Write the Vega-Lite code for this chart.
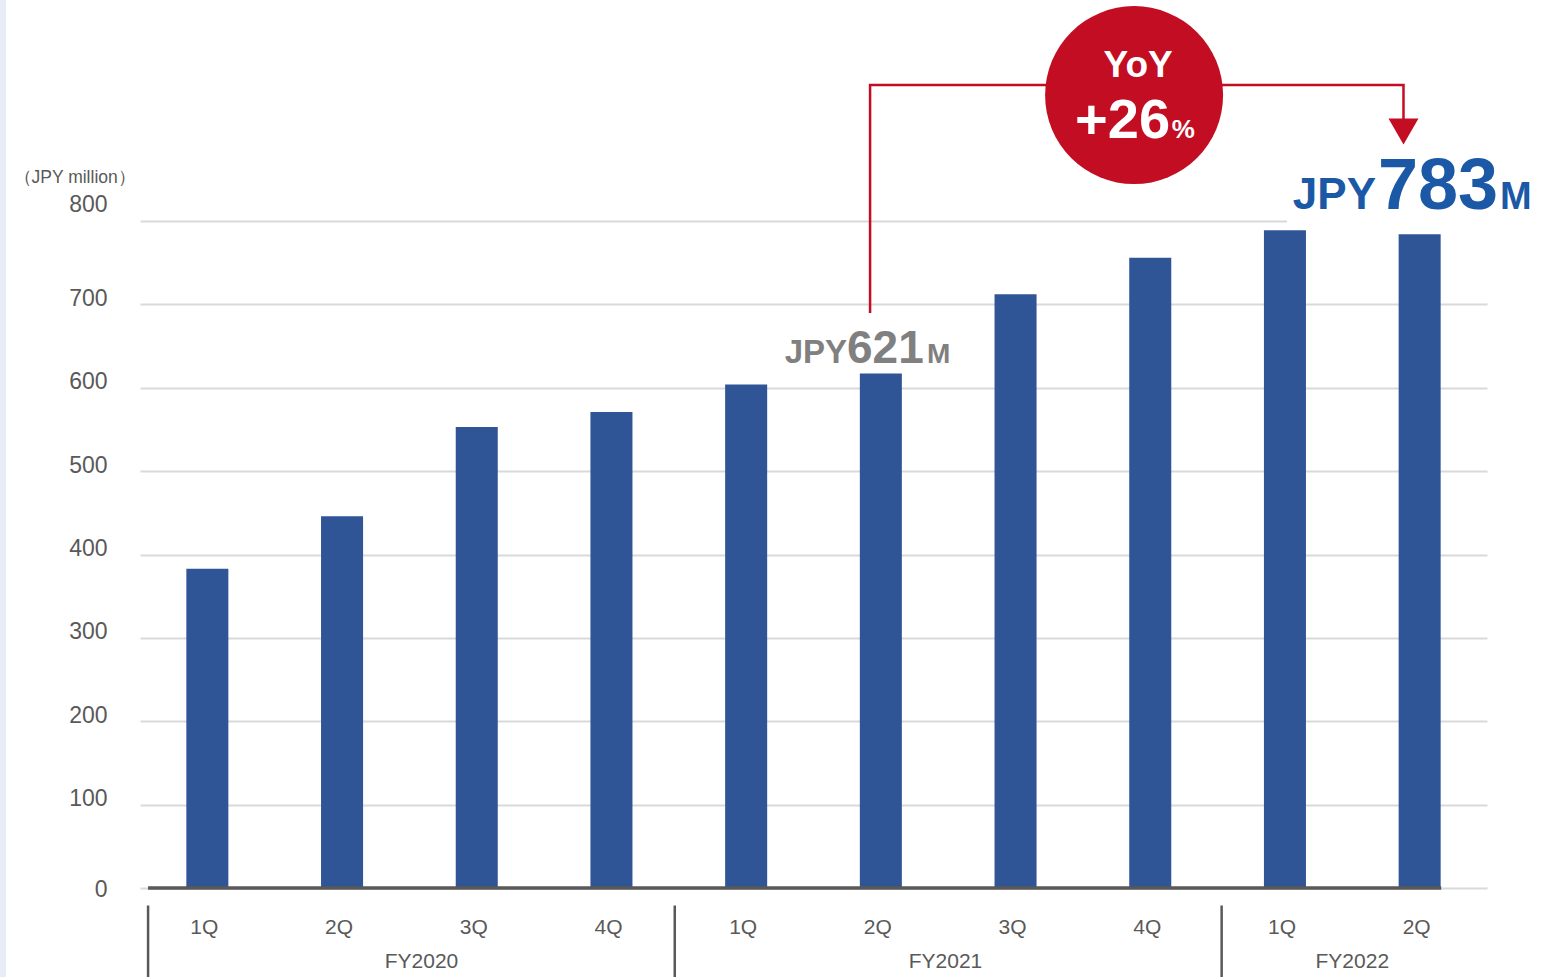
{
  "$schema": "https://vega.github.io/schema/vega-lite/v6.json",
  "description": "Quarterly sales, FY2020 1Q to FY2022 2Q, JPY million",
  "background": "white",
  "autosize": "none",
  "width": 1347,
  "height": 667,
  "padding": {"left": 140, "top": 221, "right": 69, "bottom": 89},
  "config": {
    "font": "Liberation Sans",
    "view": {"stroke": null}
  },
  "layer": [
    {
      "data": {
        "values": [
          {"period": "FY2020 1Q", "value": 383},
          {"period": "FY2020 2Q", "value": 446},
          {"period": "FY2020 3Q", "value": 553},
          {"period": "FY2020 4Q", "value": 571},
          {"period": "FY2021 1Q", "value": 604},
          {"period": "FY2021 2Q", "value": 617},
          {"period": "FY2021 3Q", "value": 712},
          {"period": "FY2021 4Q", "value": 756},
          {"period": "FY2022 1Q", "value": 789},
          {"period": "FY2022 2Q", "value": 784}
        ]
      },
      "mark": {"type": "bar", "color": "#2F5597"},
      "encoding": {
        "x": {
          "field": "period",
          "type": "nominal",
          "sort": null,
          "scale": {"paddingInner": 0.688, "paddingOuter": 0.344},
          "axis": {
            "title": null,
            "labelExpr": "split(datum.value, ' ')[1]",
            "labelAngle": 0,
            "labelFontSize": 21,
            "labelColor": "#595959",
            "labelPadding": 28,
            "labelOffset": -3,
            "domain": false,
            "ticks": false,
            "grid": false
          }
        },
        "y": {
          "field": "value",
          "type": "quantitative",
          "scale": {"domain": [0, 800], "nice": false},
          "axis": {
            "values": [0, 100, 200, 300, 400, 500, 600, 700, 800],
            "grid": true,
            "gridColor": "#d9d9d9",
            "gridWidth": 2,
            "domain": false,
            "ticks": false,
            "labelFontSize": 23,
            "labelColor": "#595959",
            "labelPadding": 33,
            "labelBaseline": "alphabetic",
            "labelOffset": {
              "condition": [
                {"test": "datum.value >= 750", "value": -10},
                {"test": "datum.value <= 50", "value": 8}
              ],
              "value": 1
            },
            "title": "（JPY million）",
            "titleAngle": 0,
            "titleAlign": "left",
            "titleBaseline": "middle",
            "titleX": -127,
            "titleY": -44,
            "titleFontSize": 17.5,
            "titleFontWeight": "normal",
            "titleColor": "#595959"
          }
        }
      }
    },
    {
      "layer": [
        {
          "data": {"values": [{"pos": -1.04, "pos2": -0.995, "value": 1070, "value2": -110}]},
          "mark": {"type": "rect", "color": "#e8ecf6"},
          "encoding": {
            "x": {"field": "pos", "type": "quantitative", "scale": {"domain": [0, 10], "nice": false, "zero": false}, "axis": null},
            "x2": {"field": "pos2"},
            "y": {"field": "value", "type": "quantitative", "scale": {"domain": [0, 800], "nice": false}},
            "y2": {"field": "value2"}
          }
        },
        {
          "data": {"values": [{"pos": 8.515, "pos2": 10.5, "value": 794, "value2": 850}]},
          "mark": {"type": "rect", "color": "white"},
          "encoding": {
            "x": {"field": "pos", "type": "quantitative", "scale": {"domain": [0, 10], "nice": false, "zero": false}, "axis": null},
            "x2": {"field": "pos2"},
            "y": {"field": "value", "type": "quantitative", "scale": {"domain": [0, 800], "nice": false}},
            "y2": {"field": "value2"}
          }
        },
        {
          "data": {"values": [{"pos": 0.06, "pos2": 9.66, "value": 0}]},
          "mark": {"type": "rule", "color": "#595959", "strokeWidth": 3.5},
          "encoding": {
            "x": {"field": "pos", "type": "quantitative", "scale": {"domain": [0, 10], "nice": false, "zero": false}, "axis": null},
            "x2": {"field": "pos2"},
            "y": {"field": "value", "type": "quantitative", "scale": {"domain": [0, 800], "nice": false}}
          }
        },
        {
          "data": {
            "values": [
              {"pos": 0.06, "value": -21, "value2": -110},
              {"pos": 3.97, "value": -21, "value2": -110},
              {"pos": 8.03, "value": -21, "value2": -110}
            ]
          },
          "mark": {"type": "rule", "color": "#595959", "strokeWidth": 2.5},
          "encoding": {
            "x": {"field": "pos", "type": "quantitative", "scale": {"domain": [0, 10], "nice": false, "zero": false}, "axis": null},
            "y": {"field": "value", "type": "quantitative", "scale": {"domain": [0, 800], "nice": false}},
            "y2": {"field": "value2"}
          }
        },
        {
          "data": {
            "values": [
              {"pos": 2.09, "value": -89, "label": "FY2020"},
              {"pos": 5.98, "value": -89, "label": "FY2021"},
              {"pos": 9.0, "value": -89, "label": "FY2022"}
            ]
          },
          "mark": {"type": "text", "fontSize": 21, "color": "#595959", "baseline": "middle", "align": "center"},
          "encoding": {
            "x": {"field": "pos", "type": "quantitative", "scale": {"domain": [0, 10], "nice": false, "zero": false}, "axis": null},
            "y": {"field": "value", "type": "quantitative", "scale": {"domain": [0, 800], "nice": false}},
            "text": {"field": "label"}
          }
        },
        {
          "data": {
            "values": [
              {"step": 1, "pos": 5.42, "value": 689.6},
              {"step": 2, "pos": 5.42, "value": 963.2},
              {"step": 3, "pos": 9.38, "value": 963.2},
              {"step": 4, "pos": 9.38, "value": 920}
            ]
          },
          "mark": {"type": "line", "color": "#C30D23", "strokeWidth": 2.5},
          "encoding": {
            "x": {"field": "pos", "type": "quantitative", "scale": {"domain": [0, 10], "nice": false, "zero": false}, "axis": null},
            "y": {"field": "value", "type": "quantitative", "scale": {"domain": [0, 800], "nice": false}},
            "order": {"field": "step"}
          }
        },
        {
          "data": {"values": [{"pos": 9.38, "value": 907.4}]},
          "mark": {"type": "point", "shape": "triangle-down", "filled": true, "opacity": 1, "color": "#C30D23", "size": 900},
          "encoding": {
            "x": {"field": "pos", "type": "quantitative", "scale": {"domain": [0, 10], "nice": false, "zero": false}, "axis": null},
            "y": {"field": "value", "type": "quantitative", "scale": {"domain": [0, 800], "nice": false}}
          }
        },
        {
          "data": {"values": [{"pos": 7.38, "value": 951}]},
          "mark": {"type": "point", "shape": "circle", "filled": true, "opacity": 1, "color": "#C30D23", "size": 31684},
          "encoding": {
            "x": {"field": "pos", "type": "quantitative", "scale": {"domain": [0, 10], "nice": false, "zero": false}, "axis": null},
            "y": {"field": "value", "type": "quantitative", "scale": {"domain": [0, 800], "nice": false}}
          }
        },
        {
          "data": {"values": [{"pos": 7.41, "value": 972.8, "label": "YoY"}]},
          "mark": {"type": "text", "fontSize": 37, "fontWeight": "bold", "color": "white", "align": "center", "baseline": "alphabetic"},
          "encoding": {
            "x": {"field": "pos", "type": "quantitative", "scale": {"domain": [0, 10], "nice": false, "zero": false}, "axis": null},
            "y": {"field": "value", "type": "quantitative", "scale": {"domain": [0, 800], "nice": false}},
            "text": {"field": "label"}
          }
        },
        {
          "data": {"values": [{"pos": 7.647, "value": 899.6, "label": "+26"}]},
          "mark": {"type": "text", "fontSize": 56, "fontWeight": "bold", "color": "white", "align": "right", "baseline": "alphabetic"},
          "encoding": {
            "x": {"field": "pos", "type": "quantitative", "scale": {"domain": [0, 10], "nice": false, "zero": false}, "axis": null},
            "y": {"field": "value", "type": "quantitative", "scale": {"domain": [0, 800], "nice": false}},
            "text": {"field": "label"}
          }
        },
        {
          "data": {"values": [{"pos": 7.66, "value": 899.6, "label": "%"}]},
          "mark": {"type": "text", "fontSize": 26, "fontWeight": "bold", "color": "white", "align": "left", "baseline": "alphabetic"},
          "encoding": {
            "x": {"field": "pos", "type": "quantitative", "scale": {"domain": [0, 10], "nice": false, "zero": false}, "axis": null},
            "y": {"field": "value", "type": "quantitative", "scale": {"domain": [0, 800], "nice": false}},
            "text": {"field": "label"}
          }
        },
        {
          "data": {"values": [{"pos": 5.249, "value": 629.8, "label": "JPY"}]},
          "mark": {"type": "text", "fontSize": 33, "fontWeight": "bold", "color": "#808080", "align": "right", "baseline": "alphabetic"},
          "encoding": {
            "x": {"field": "pos", "type": "quantitative", "scale": {"domain": [0, 10], "nice": false, "zero": false}, "axis": null},
            "y": {"field": "value", "type": "quantitative", "scale": {"domain": [0, 800], "nice": false}},
            "text": {"field": "label"}
          }
        },
        {
          "data": {"values": [{"pos": 5.249, "value": 629.8, "label": "621"}]},
          "mark": {"type": "text", "fontSize": 46, "fontWeight": "bold", "color": "#808080", "align": "left", "baseline": "alphabetic"},
          "encoding": {
            "x": {"field": "pos", "type": "quantitative", "scale": {"domain": [0, 10], "nice": false, "zero": false}, "axis": null},
            "y": {"field": "value", "type": "quantitative", "scale": {"domain": [0, 800], "nice": false}},
            "text": {"field": "label"}
          }
        },
        {
          "data": {"values": [{"pos": 5.843, "value": 629.8, "label": "M"}]},
          "mark": {"type": "text", "fontSize": 28, "fontWeight": "bold", "color": "#808080", "align": "left", "baseline": "alphabetic"},
          "encoding": {
            "x": {"field": "pos", "type": "quantitative", "scale": {"domain": [0, 10], "nice": false, "zero": false}, "axis": null},
            "y": {"field": "value", "type": "quantitative", "scale": {"domain": [0, 800], "nice": false}},
            "text": {"field": "label"}
          }
        },
        {
          "data": {"values": [{"pos": 9.176, "value": 814.3, "label": "JPY"}]},
          "mark": {"type": "text", "fontSize": 44, "fontWeight": "bold", "color": "#1B58A6", "align": "right", "baseline": "alphabetic"},
          "encoding": {
            "x": {"field": "pos", "type": "quantitative", "scale": {"domain": [0, 10], "nice": false, "zero": false}, "axis": null},
            "y": {"field": "value", "type": "quantitative", "scale": {"domain": [0, 800], "nice": false}},
            "text": {"field": "label"}
          }
        },
        {
          "data": {"values": [{"pos": 9.19, "value": 814.3, "label": "783"}]},
          "mark": {"type": "text", "fontSize": 72, "fontWeight": "bold", "color": "#1B58A6", "align": "left", "baseline": "alphabetic"},
          "encoding": {
            "x": {"field": "pos", "type": "quantitative", "scale": {"domain": [0, 10], "nice": false, "zero": false}, "axis": null},
            "y": {"field": "value", "type": "quantitative", "scale": {"domain": [0, 800], "nice": false}},
            "text": {"field": "label"}
          }
        },
        {
          "data": {"values": [{"pos": 10.097, "value": 814.3, "label": "M"}]},
          "mark": {"type": "text", "fontSize": 38, "fontWeight": "bold", "color": "#1B58A6", "align": "left", "baseline": "alphabetic"},
          "encoding": {
            "x": {"field": "pos", "type": "quantitative", "scale": {"domain": [0, 10], "nice": false, "zero": false}, "axis": null},
            "y": {"field": "value", "type": "quantitative", "scale": {"domain": [0, 800], "nice": false}},
            "text": {"field": "label"}
          }
        }
      ]
    }
  ],
  "resolve": {"scale": {"x": "independent"}}
}
